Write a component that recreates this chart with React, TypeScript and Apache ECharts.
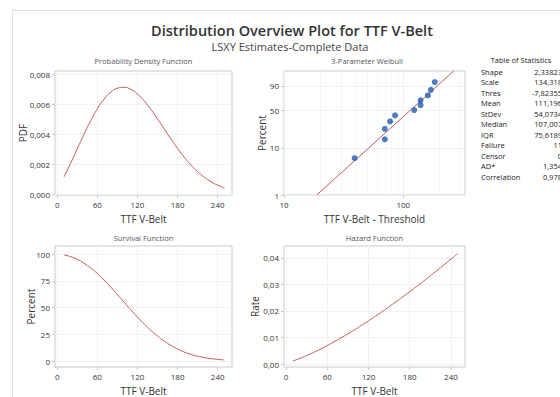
import React, { useEffect, useRef } from "react";
import * as echarts from "echarts";

// ---------- data ----------
const curveTimes = [10, 20, 30, 40, 50, 60, 70, 80, 90, 100, 110, 120, 130, 140, 150, 160, 170, 180, 190, 200, 210, 220, 230, 240, 250];
const pdfValues = [0.001156, 0.002064, 0.003034, 0.003997, 0.004903, 0.005699, 0.006345, 0.006808, 0.007072, 0.007132, 0.006997, 0.006686, 0.006231, 0.005663, 0.005026, 0.004357, 0.003689, 0.003051, 0.002465, 0.001947, 0.001503, 0.001132, 0.000834, 0.0006, 0.000422];
const survivalPercent = [99.1, 97.5, 95.0, 91.4, 87.0, 81.7, 75.6, 69.1, 62.1, 55.0, 47.9, 41.0, 34.6, 28.6, 23.3, 18.6, 14.6, 11.2, 8.4, 6.2, 4.5, 3.2, 2.2, 1.5, 1.0];
const hazardRates = [0.001166, 0.002117, 0.003194, 0.004371, 0.005637, 0.006977, 0.008387, 0.00986, 0.011388, 0.012972, 0.014607, 0.01629, 0.018017, 0.019788, 0.0216, 0.023449, 0.025339, 0.027263, 0.029225, 0.031218, 0.033243, 0.0353, 0.037385, 0.039506, 0.041653];

const failureMinusThreshold = [39.1, 70.0, 70.0, 77.5, 85.3, 123.5, 139.6, 139.6, 160.6, 170.2, 183.6];
const plottingPercent = [6.1, 14.9, 23.7, 32.5, 41.2, 50.0, 58.8, 67.5, 76.3, 85.1, 93.9];
const fitLineX = [18.8, 264];
const fitLinePercent = [1, 99.2];

const timeTicks = [0, 60, 120, 180, 240];
const pdfTicks = [0, 0.002, 0.004, 0.006, 0.008];
const survivalTicks = [0, 25, 50, 75, 100];
const hazardTicks = [0, 0.01, 0.02, 0.03, 0.04];
const weibullPercentTicks = [1, 10, 50, 90];
const weibullXTicks = [10, 100];
const weibullMinorX = [20, 30, 40, 50, 60, 70, 80, 90, 200, 300];

const statLabels = ["Shape", "Scale", "Thres", "Mean", "StDev", "Median", "IQR", "Failure", "Censor", "AD*", "Correlation"];
const statValues = ["2,33823", "134,318", "-7,82355", "111,196", "54,0734", "107,007", "75,6189", "11", "0", "1,354", "0,978"];

// ---------- styles ----------
const FONT = "'Open Sans', 'Noto Sans', sans-serif";
const LINE_COLOR = "#c85a56";
const DOT_COLOR = "#1f5db3";
const BORDER = "#c9c9c9";
const GRIDLINE = "#f1f1f1";
const TEXT = "#333333";

const weib = (p: number) => Math.log(-Math.log(1 - p / 100));
const unweib = (v: number) => (1 - Math.exp(-Math.exp(v))) * 100;
const comma = (v: number, d: number) => v.toFixed(d).replace(".", ",");

function valueAxis(ticks: number[], min: number, max: number, fmt: (v: number) => string, name: string, nameGap: number, gridIndex: number, isY: boolean) {
  return {
    type: "value",
    gridIndex,
    min,
    max,
    name,
    nameLocation: "middle",
    nameGap,
    nameMoveOverlap: false,
    nameTextStyle: { fontFamily: FONT, fontSize: 10, color: TEXT },
    axisLine: { show: false, onZero: false },
    axisTick: { show: true, length: 3, lineStyle: { color: BORDER }, customValues: ticks },
    axisLabel: {
      fontFamily: FONT,
      fontSize: 8,
      color: TEXT,
      margin: 5,
      hideOverlap: false,
      customValues: ticks,
      align: isY ? "right" : "center",
      formatter: (v: number) => fmt(v),
    },
    splitLine: { show: true, lineStyle: { color: GRIDLINE, width: 1 } },
  };
}

export default function App() {
  const ref = useRef<HTMLDivElement>(null);

  useEffect(() => {
    document.body.style.margin = "0";
    if (!ref.current) return;
    const chart = echarts.init(ref.current, null, { renderer: "svg" });

    const grids = [
      { left: 55, top: 71, width: 177, height: 124 },
      { left: 284, top: 71, width: 181, height: 124 },
      { left: 55, top: 246, width: 177, height: 126 },
      { left: 284, top: 246, width: 181, height: 126 },
    ].map((g) => ({ ...g, show: true, borderColor: BORDER, borderWidth: 1, backgroundColor: "#ffffff", containLabel: false }));

    const timeFmt = (v: number) => String(Math.round(v));

    const xAxes: any[] = [
      valueAxis(timeTicks, -3.4, 261.4, timeFmt, "TTF V-Belt", 19, 0, false),
      {
        type: "log",
        logBase: 10,
        gridIndex: 1,
        min: 10,
        max: 329,
        name: "TTF V-Belt - Threshold",
        nameLocation: "middle",
        nameGap: 19,
        nameMoveOverlap: false,
        nameTextStyle: { fontFamily: FONT, fontSize: 10, color: TEXT },
        axisLine: { show: false, onZero: false },
        axisTick: { show: true, length: 3, lineStyle: { color: BORDER }, customValues: weibullXTicks },
        axisLabel: { fontFamily: FONT, fontSize: 8, color: TEXT, margin: 5, customValues: weibullXTicks, formatter: (v: number) => String(Math.round(v)) },
        splitLine: { show: true, lineStyle: { color: GRIDLINE, width: 1 } },
      },
      valueAxis(timeTicks, -3.4, 261.4, timeFmt, "TTF V-Belt", 19, 2, false),
      valueAxis(timeTicks, -2.9, 260.4, timeFmt, "TTF V-Belt", 19, 3, false),
    ];

    const yAxes: any[] = [
      valueAxis(pdfTicks, -0.00005, 0.00822, (v) => comma(v, 3), "PDF", 27, 0, true),
      valueAxis(weibullPercentTicks.map(weib), weib(1), 1.58, (v) => String(Math.round(unweib(v))), "Percent", 17, 1, true),
      valueAxis(survivalTicks, -5.6, 107.5, (v) => String(Math.round(v)), "Percent", 19, 2, true),
      valueAxis(hazardTicks, -0.0011, 0.04445, (v) => comma(v, 2), "Rate", 24, 3, true),
    ];

    const lineSeries = (values: number[], idx: number) => ({
      type: "line",
      xAxisIndex: idx,
      yAxisIndex: idx,
      data: curveTimes.map((t, i) => [t, values[i]]),
      showSymbol: false,
      symbol: "none",
      smooth: true,
      lineStyle: { color: LINE_COLOR, width: 1 },
      silent: true,
      z: 3,
    });

    const graphic: any[] = [
      { type: "rect", shape: { x: 12.5, y: 10.5, width: 600, height: 420 }, style: { fill: "none", stroke: "#dedede", lineWidth: 1 }, z: -1, silent: true },
      { type: "text", x: 292, y: 30, style: { text: "Distribution Overview Plot for TTF V-Belt", fontFamily: FONT, fontSize: 14.5, fontWeight: 600, fill: "#333333", align: "center", verticalAlign: "middle" } },
      { type: "text", x: 290, y: 46, style: { text: "LSXY Estimates-Complete Data", fontFamily: FONT, fontSize: 11, fill: "#444444", align: "center", verticalAlign: "middle" } },
      { type: "text", x: 143.5, y: 61, style: { text: "Probability Density Function", fontFamily: FONT, fontSize: 7.5, fill: "#555555", align: "center", verticalAlign: "middle" } },
      { type: "text", x: 367, y: 61, style: { text: "3-Parameter Weibull", fontFamily: FONT, fontSize: 7.5, fill: "#555555", align: "center", verticalAlign: "middle" } },
      { type: "text", x: 143.5, y: 238, style: { text: "Survival Function", fontFamily: FONT, fontSize: 7.5, fill: "#555555", align: "center", verticalAlign: "middle" } },
      { type: "text", x: 374.5, y: 238, style: { text: "Hazard Function", fontFamily: FONT, fontSize: 7.5, fill: "#555555", align: "center", verticalAlign: "middle" } },
      { type: "text", x: 521, y: 60, style: { text: "Table of Statistics", fontFamily: FONT, fontSize: 7.5, fill: "#222222", align: "center", verticalAlign: "middle" } },
    ];
    statLabels.forEach((lab, i) => {
      const y = 71.5 + i * 10.55;
      graphic.push({ type: "text", x: 481, y, style: { text: lab, fontFamily: FONT, fontSize: 7.5, fill: "#222222", align: "left", verticalAlign: "middle" } });
      graphic.push({ type: "text", x: 562, y, style: { text: statValues[i], fontFamily: FONT, fontSize: 7.5, fill: "#222222", align: "right", verticalAlign: "middle" } });
    });

    chart.setOption({
      animation: false,
      backgroundColor: "#ffffff",
      grid: grids,
      xAxis: xAxes,
      yAxis: yAxes,
      graphic,
      series: [
        lineSeries(pdfValues, 0),
        {
          type: "line",
          xAxisIndex: 1,
          yAxisIndex: 1,
          data: fitLineX.map((x, i) => [x, weib(fitLinePercent[i])]),
          showSymbol: false,
          symbol: "none",
          lineStyle: { color: LINE_COLOR, width: 1 },
          silent: true,
          z: 2,
          markLine: {
            silent: true,
            symbol: "none",
            label: { show: false },
            emphasis: { disabled: true },
            lineStyle: { color: "#f5f5f5", width: 1, type: "solid", opacity: 1 },
            data: weibullMinorX.map((x) => ({ xAxis: x })),
            z: 1,
          },
        },
        {
          type: "scatter",
          xAxisIndex: 1,
          yAxisIndex: 1,
          data: failureMinusThreshold.map((x, i) => [x, weib(plottingPercent[i])]),
          symbol: "circle",
          symbolSize: 6,
          itemStyle: { color: DOT_COLOR },
          silent: true,
          z: 4,
        },
        lineSeries(survivalPercent, 2),
        lineSeries(hazardRates, 3),
      ],
    });

    return () => {
      chart.dispose();
    };
  }, []);

  return <div ref={ref} style={{ width: 560, height: 397 }} />;
}
